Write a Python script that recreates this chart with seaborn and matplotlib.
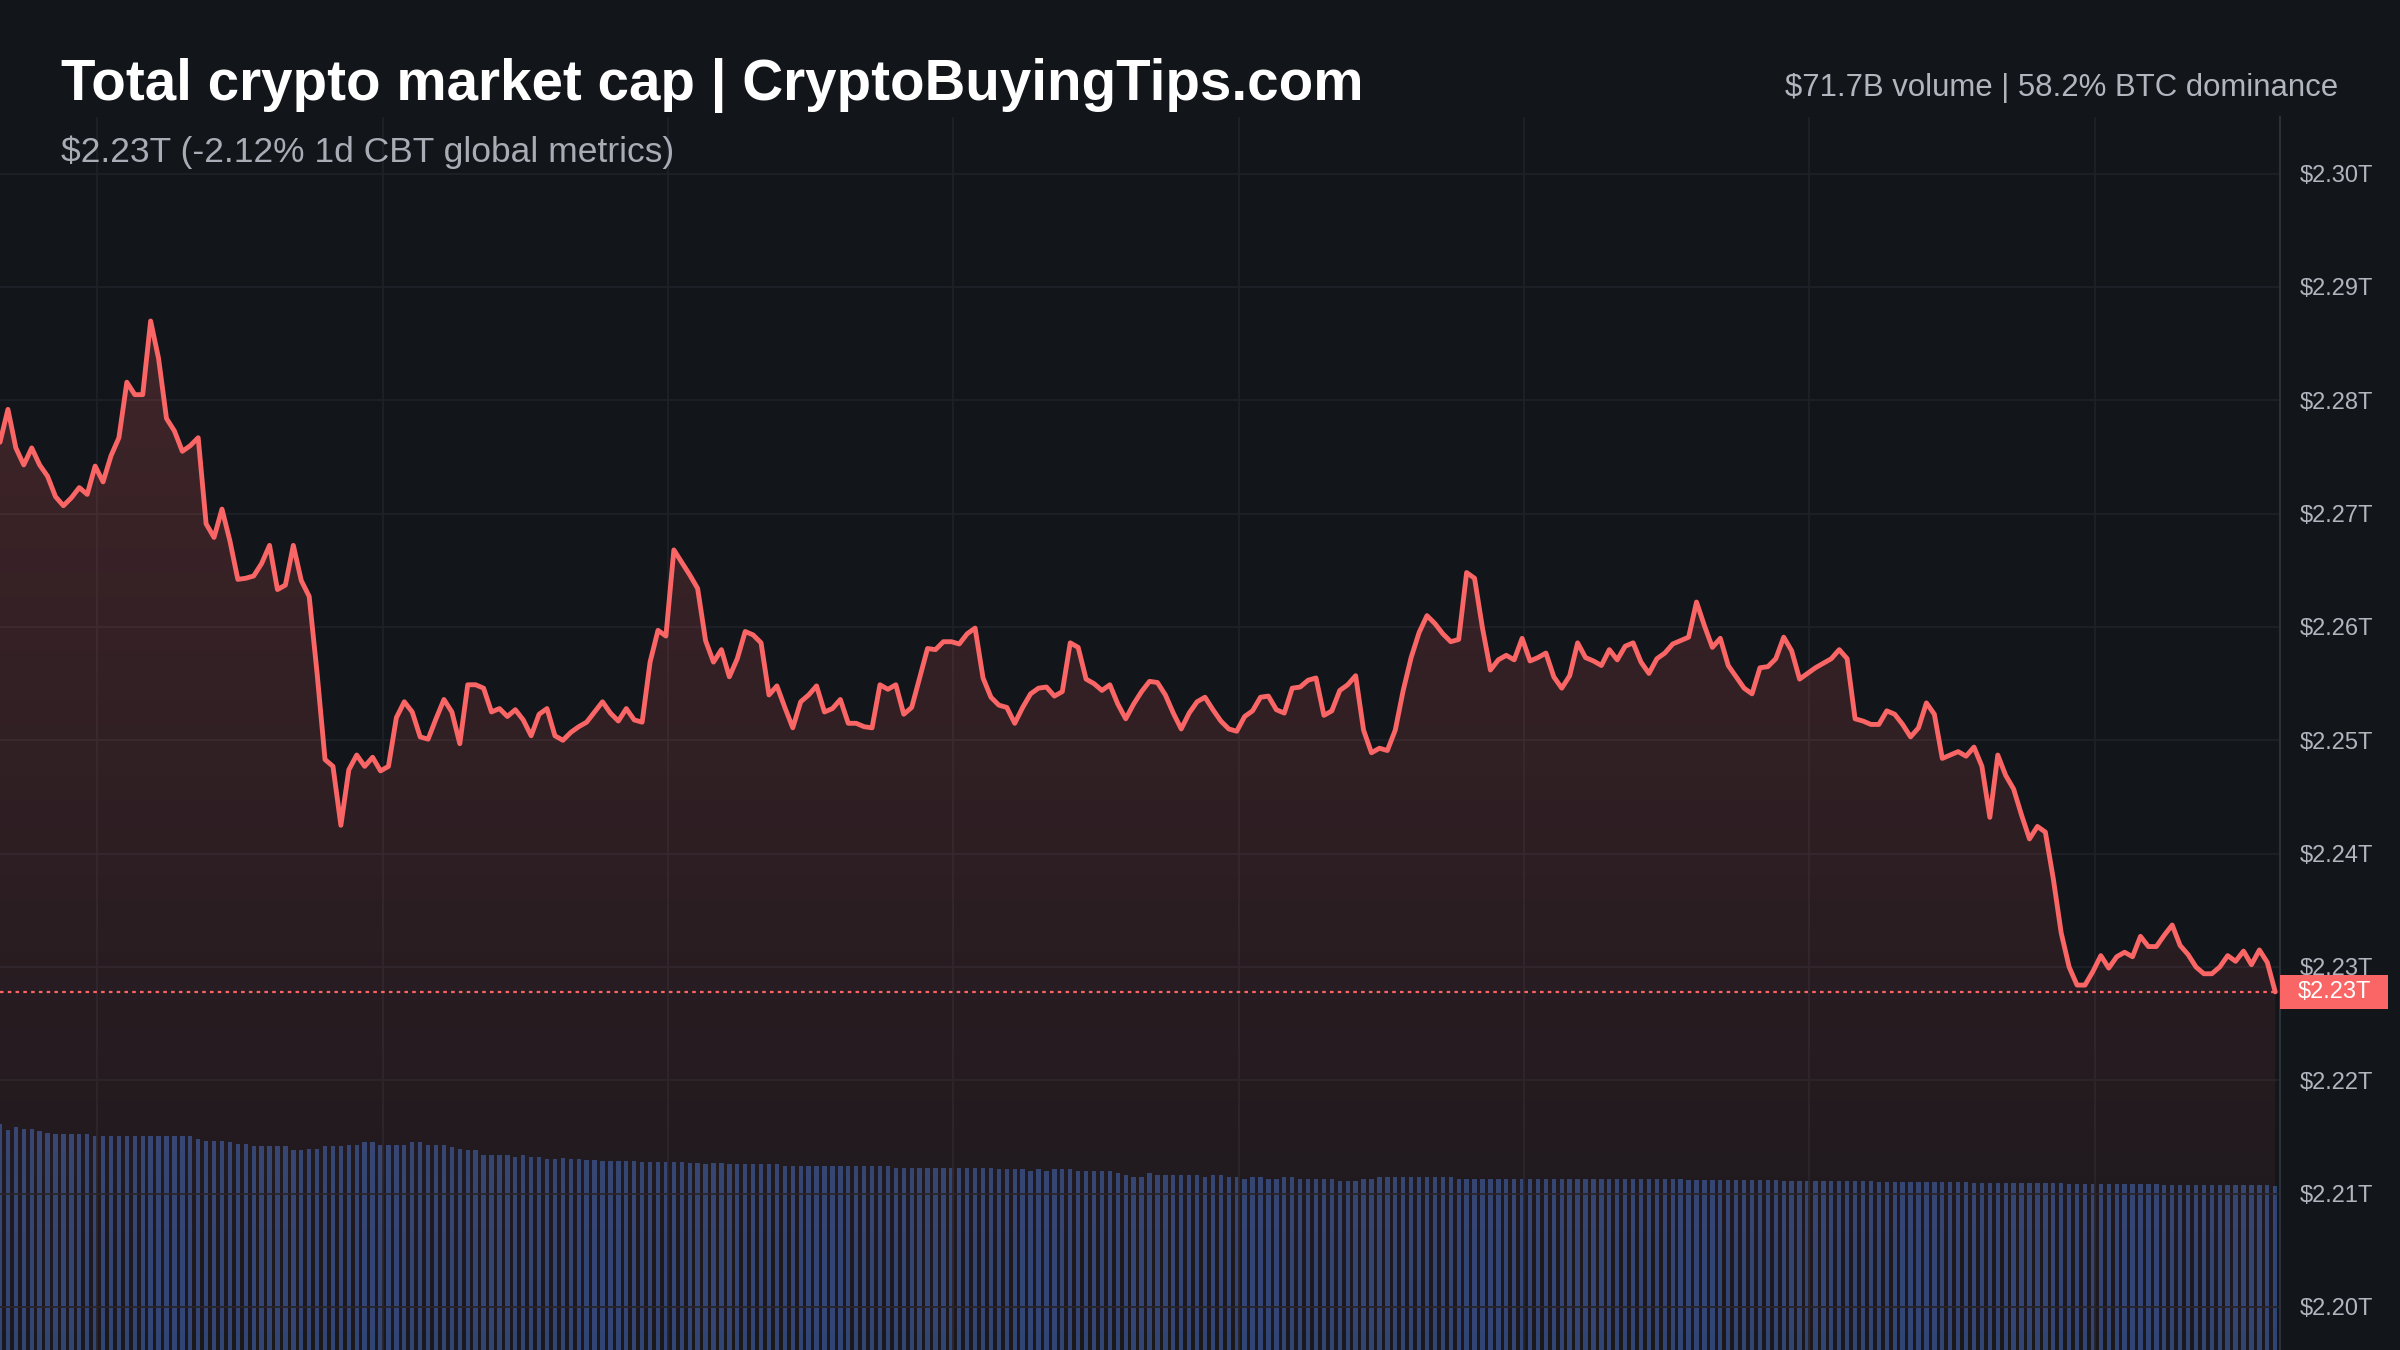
import numpy as np
import pandas as pd
import matplotlib
matplotlib.use("Agg")
import matplotlib.pyplot as plt
from matplotlib.patches import Rectangle
from matplotlib.transforms import blended_transform_factory
import seaborn as sns

# total market cap in $ billions, one point per 5 minutes over 1 day
market_cap_b = [
    2276.3, 2279.2, 2275.8, 2274.3, 2275.8, 2274.3, 2273.3, 2271.5, 2270.7, 2271.4,
    2272.3, 2271.7, 2274.2, 2272.8, 2275.1, 2276.7, 2281.6, 2280.5, 2280.5, 2287.0,
    2283.7, 2278.4, 2277.3, 2275.5, 2276.0, 2276.7, 2269.1, 2267.9, 2270.4, 2267.6,
    2264.2, 2264.3, 2264.5, 2265.6, 2267.2, 2263.3, 2263.7, 2267.2, 2264.1, 2262.7,
    2255.9, 2248.3, 2247.7, 2242.5, 2247.4, 2248.7, 2247.7, 2248.5, 2247.3, 2247.7,
    2252.0, 2253.4, 2252.5, 2250.3, 2250.1, 2251.9, 2253.6, 2252.5, 2249.7, 2254.9,
    2254.9, 2254.6, 2252.5, 2252.8, 2252.1, 2252.7, 2251.8, 2250.4, 2252.3, 2252.8,
    2250.4, 2250.0, 2250.7, 2251.2, 2251.6, 2252.5, 2253.4, 2252.4, 2251.7, 2252.8,
    2251.8, 2251.6, 2256.9, 2259.7, 2259.2, 2266.8, 2265.7, 2264.6, 2263.4, 2258.8,
    2256.9, 2258.0, 2255.6, 2257.2, 2259.6, 2259.3, 2258.6, 2254.0, 2254.8, 2252.9,
    2251.1, 2253.4, 2254.0, 2254.8, 2252.5, 2252.8, 2253.6, 2251.5, 2251.5, 2251.2,
    2251.1, 2254.9, 2254.5, 2254.9, 2252.3, 2252.9, 2255.5, 2258.1, 2258.0, 2258.7,
    2258.7, 2258.5, 2259.4, 2259.9, 2255.5, 2253.8, 2253.1, 2252.9, 2251.5, 2252.9,
    2254.1, 2254.6, 2254.7, 2253.9, 2254.3, 2258.6, 2258.2, 2255.4, 2255.0, 2254.4,
    2254.9, 2253.2, 2251.9, 2253.2, 2254.3, 2255.2, 2255.1, 2254.0, 2252.4, 2251.0,
    2252.4, 2253.4, 2253.8, 2252.7, 2251.7, 2251.0, 2250.8, 2252.1, 2252.6, 2253.8,
    2253.9, 2252.7, 2252.4, 2254.6, 2254.7, 2255.3, 2255.5, 2252.2, 2252.6, 2254.4,
    2254.9, 2255.7, 2250.9, 2248.9, 2249.3, 2249.1, 2250.9, 2254.4, 2257.3, 2259.5,
    2261.0, 2260.3, 2259.4, 2258.7, 2258.9, 2264.8, 2264.3, 2259.9, 2256.2, 2257.1,
    2257.5, 2257.1, 2259.0, 2257.0, 2257.3, 2257.7, 2255.6, 2254.6, 2255.7, 2258.6,
    2257.3, 2257.0, 2256.6, 2258.0, 2257.1, 2258.3, 2258.6, 2256.9, 2255.9, 2257.2,
    2257.7, 2258.5, 2258.8, 2259.1, 2262.2, 2260.1, 2258.2, 2259.0, 2256.6, 2255.6,
    2254.6, 2254.1, 2256.4, 2256.5, 2257.2, 2259.1, 2257.9, 2255.4, 2255.9, 2256.4,
    2256.8, 2257.2, 2258.0, 2257.2, 2251.9, 2251.7, 2251.4, 2251.4, 2252.6, 2252.3,
    2251.4, 2250.3, 2251.1, 2253.3, 2252.3, 2248.4, 2248.7, 2249.0, 2248.6, 2249.4,
    2247.7, 2243.2, 2248.7, 2246.9, 2245.7, 2243.4, 2241.3, 2242.4, 2241.9, 2237.8,
    2233.0, 2230.0, 2228.4, 2228.4, 2229.6, 2231.0, 2229.9, 2230.9, 2231.3, 2230.9,
    2232.7, 2231.8, 2231.8, 2232.8, 2233.7, 2231.9, 2231.1, 2230.0, 2229.4, 2229.4,
    2230.0, 2231.0, 2230.5, 2231.4, 2230.2, 2231.5, 2230.4, 2227.8,
]

# rolling 24h volume in $ billions
volume_b = [
    99.1, 96.2, 97.6, 96.9, 96.9, 95.9, 95.2, 94.4, 94.4, 94.4,
    94.4, 94.4, 93.6, 93.6, 93.6, 93.6, 93.6, 93.6, 93.6, 93.6,
    93.6, 93.6, 93.6, 93.6, 93.6, 92.6, 91.7, 91.7, 91.7, 90.9,
    90.1, 90.1, 89.2, 89.2, 89.2, 89.2, 89.2, 87.4, 87.4, 88.2,
    88.2, 89.2, 89.2, 89.2, 89.9, 89.9, 90.9, 90.9, 89.9, 89.9,
    89.9, 89.9, 90.9, 90.9, 89.9, 89.9, 89.9, 88.9, 88.2, 87.4,
    87.4, 85.6, 85.6, 85.6, 85.6, 84.5, 85.3, 84.5, 84.5, 83.8,
    83.8, 84.3, 83.8, 83.5, 83.1, 83.1,
    82.9, 82.9, 82.7, 82.7, 82.7, 82.2, 82.2, 82.2, 82.2, 82.2,
    82.2, 81.7, 81.7, 81.3, 81.7, 81.7, 81.3, 81.3, 81.3, 81.3,
    81.3, 81.3, 81.3, 80.8, 80.8, 80.8, 80.8, 80.8, 80.8, 80.8,
    80.4, 80.4, 80.4, 80.4, 80.4, 80.4, 80.4, 79.9, 79.9, 79.9,
    79.9, 79.9, 79.9, 79.9, 79.6, 79.6, 79.6, 79.6, 79.6, 79.6,
    79.4, 79.4, 79.4, 79.4, 78.4, 79.4, 78.4, 79.4, 79.4, 79.4,
    78.4, 78.4, 78.4, 78.4, 78.4, 77.5, 76.8, 75.8, 75.8, 77.5,
    76.8, 76.8, 76.8, 76.8, 76.8, 76.8, 75.8, 76.8, 76.8, 75.8,
    75.8, 75.1, 75.8, 75.8, 75.1, 75.1, 75.8, 75.8, 75.1, 75.1,
    75.1, 75.1, 75.1, 74.0, 74.0, 74.0, 75.1, 75.1, 75.8, 75.8,
    75.8, 75.8, 75.8, 75.8, 75.8, 75.8, 75.8, 75.8, 75.1, 75.1,
    75.1, 75.1, 75.1,
    75.1, 75.1, 75.1, 75.1, 75.1, 75.1, 75.1, 75.1, 75.1, 75.1, 75.1, 75.1,
    74.8, 74.8, 74.8, 74.8, 74.8, 74.8, 74.8, 74.8, 74.8, 74.8, 74.8, 74.8,
    74.4, 74.4, 74.4, 74.4, 74.4, 74.4, 74.4, 74.4, 74.4, 74.4, 74.4, 74.4,
    74.0, 74.0, 74.0, 74.0, 74.0, 74.0, 74.0, 74.0, 74.0, 74.0, 74.0, 74.0,
    73.5, 73.5, 73.5, 73.5, 73.5, 73.5, 73.5, 73.5, 73.5, 73.5, 73.5, 73.5,
    73.0, 73.0, 73.0, 73.0, 73.0, 73.0, 73.0, 73.0, 73.0, 73.0, 73.0, 73.0,
    72.6, 72.6, 72.6, 72.6, 72.6, 72.6, 72.6, 72.6, 72.6, 72.6, 72.6, 72.6,
    72.1, 72.1, 72.1, 72.1, 72.1, 72.1, 72.1, 72.1, 72.1, 72.1, 72.1, 72.1,
    72.1, 72.1, 71.7,
]

price_ticks = [2200, 2210, 2220, 2230, 2240, 2250, 2260, 2270, 2280, 2290, 2300]
price_labels = ["$2.20T", "$2.21T", "$2.22T", "$2.23T", "$2.24T", "$2.25T",
                "$2.26T", "$2.27T", "$2.28T", "$2.29T", "$2.30T"]
last_label = "$2.23T"

title = "Total crypto market cap | CryptoBuyingTips.com"
subtitle = "$2.23T (-2.12% 1d CBT global metrics)"
stats = "$71.7B volume | 58.2% BTC dominance"

bg = "#12151a"
red = "#fa6565"
grid_c = "#1e2128"

sns.set_style("dark", rc={"axes.facecolor": bg, "figure.facecolor": bg})
plt.rcParams["font.family"] = ["Liberation Sans", "DejaVu Sans"]

df = pd.DataFrame({"t": np.arange(len(market_cap_b)), "cap": market_cap_b, "vol": volume_b})

fig = plt.figure(figsize=(24, 13.5), dpi=100, facecolor=bg)
ax = fig.add_axes([0, 0, 0.95, 1 - 117 / 1350])
ax_vol = ax.twinx()
ax.set_zorder(ax_vol.get_zorder() + 1)
ax.patch.set_visible(False)
ax_vol.patch.set_visible(True)
ax_vol.set_facecolor(bg)

# volume bars at the bottom
sns.barplot(data=df, x="t", y="vol", ax=ax_vol, native_scale=True, color="#294475",
            saturation=1, width=0.55, errorbar=None, edgecolor="none", linewidth=0)
ax_vol.set_ylim(0, 540)
ax_vol.yaxis.set_visible(False)
ax_vol.set_xlabel("")
for s in ax_vol.spines.values():
    s.set_visible(False)

ylo, yhi = 2196.2, 2305.0

# gradient area under the line
poly = ax.fill_between(df["t"], df["cap"], ylo, color="none", lw=0)
grad = np.zeros((256, 1, 4))
grad[..., :3] = matplotlib.colors.to_rgb(red)
grad[..., 3] = np.linspace(0.2, 0.04, 256)[:, None]
im = ax.imshow(grad, extent=(0, len(df) - 1, ylo, df["cap"].max()), aspect="auto",
               origin="upper", zorder=1.5)
im.set_clip_path(poly.get_paths()[0], transform=ax.transData)

sns.lineplot(data=df, x="t", y="cap", ax=ax, color=red, lw=3.5, zorder=3)
last = market_cap_b[-1]
ax.axhline(last, color=red, lw=1.6, ls=(0, (1.6, 1.9)), zorder=2.5)

ax.set_xlim(0, 287.6)
ax.set_ylim(ylo, yhi)
ax.set_xticks(np.arange(12.25, 288, 36))
ax.set_xticklabels([])
ax.set_yticks(price_ticks, labels=price_labels)
ax.yaxis.tick_right()
ax.tick_params(axis="y", length=0, pad=14, labelsize=17, labelcolor="#b2b5bd")
ax.tick_params(axis="x", length=0)
ax.set_xlabel("")
ax.set_ylabel("")
ax.grid(True, color=grid_c, lw=1.3)
ax.set_axisbelow(True)
for name, s in ax.spines.items():
    s.set_visible(name == "right")
ax.spines["right"].set_color("#2c3038")
ax.spines["right"].set_linewidth(1.5)

# last price tag on the axis
trans = blended_transform_factory(ax.transAxes, ax.transData)
ax.add_patch(Rectangle((1.0, last - 1.5), 108 / 2280, 3.0, transform=trans,
                       facecolor=red, edgecolor="none", clip_on=False, zorder=10))
ax.text(1 + 18 / 2280, last, last_label, transform=trans, color="white", fontsize=17,
        ha="left", va="center", zorder=11, clip_on=False)

fig.text(61 / 2400, 1 - 100 / 1350, title, fontsize=40.7, fontweight="bold",
         color="white", ha="left", va="baseline")
fig.text(61 / 2400, 1 - 162 / 1350, subtitle, fontsize=25.5, color="#a9acb4",
         ha="left", va="baseline")
fig.text(2338 / 2400, 1 - 96 / 1350, stats, fontsize=22.4, color="#b2b5bd",
         ha="right", va="baseline")

fig.savefig("out.png", dpi=100, facecolor=bg)
